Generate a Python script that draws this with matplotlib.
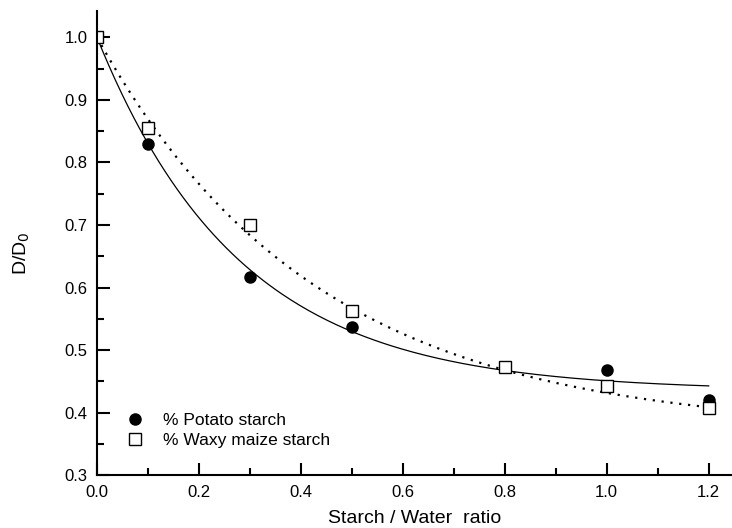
import numpy as np
import matplotlib.pyplot as plt
from matplotlib.ticker import MultipleLocator

plt.rcParams['font.family'] = ['Liberation Sans', 'DejaVu Sans']

# Datos medidos
potato_x = [0.1, 0.3, 0.5, 1.0, 1.2]
potato_y = [0.830, 0.617, 0.537, 0.468, 0.420]
waxy_x = [0.0, 0.1, 0.3, 0.5, 0.8, 1.0, 1.2]
waxy_y = [1.000, 0.855, 0.700, 0.562, 0.473, 0.443, 0.408]

# Parámetros del ajuste exponencial y = y0 + A*exp(-x/t)
potato_fit = (0.435, 0.565, 0.28)
waxy_fit = (0.37, 0.63, 0.43)

fig = plt.figure(figsize=(7.32, 5.28), dpi=100)
ax = fig.add_axes([0.1325, 0.100, 0.867, 0.879])

xs = np.linspace(0, 1.2, 200)
y0, a, t = potato_fit
ax.plot(xs, y0 + a * np.exp(-xs / t), color='black', linewidth=0.9)
y0, a, t = waxy_fit
ax.plot(xs, y0 + a * np.exp(-xs / t), color='black', linewidth=1.6,
        linestyle=(0, (1, 3)))

ax.plot(potato_x, potato_y, 'o', color='black', markersize=8,
        label='% Potato starch', linestyle='none')
ax.plot(waxy_x, waxy_y, 's', markerfacecolor='white', markeredgecolor='black',
        markeredgewidth=1.0, markersize=9, label='% Waxy maize starch',
        linestyle='none')

ax.set_xlim(0, 1.245)
ax.set_ylim(0.3, 1.042)
ax.xaxis.set_major_locator(MultipleLocator(0.2))
ax.xaxis.set_minor_locator(MultipleLocator(0.1))
ax.yaxis.set_major_locator(MultipleLocator(0.1))
ax.yaxis.set_minor_locator(MultipleLocator(0.05))
ax.xaxis.set_major_formatter(plt.FormatStrFormatter('%.1f'))
ax.yaxis.set_major_formatter(plt.FormatStrFormatter('%.1f'))

for side in ['top', 'right']:
    ax.spines[side].set_visible(False)
for side in ['left', 'bottom']:
    ax.spines[side].set_linewidth(1.5)

ax.tick_params(which='major', direction='in', length=9, width=1.5,
               labelsize=12, pad=7)
ax.tick_params(which='minor', direction='in', length=5, width=1.5)

ax.set_xlabel('Starch / Water  ratio', fontsize=14)
ax.xaxis.set_label_coords(0.5, -0.076)
ax.set_ylabel('D/D$_0$', fontsize=14)
ax.yaxis.set_label_coords(-0.103, 0.478)

ax.legend(loc='lower left', bbox_to_anchor=(0.008, 0.025), frameon=False,
          fontsize=12.5, handletextpad=0.6, labelspacing=0.3)

fig.savefig('out.png', dpi=100)
